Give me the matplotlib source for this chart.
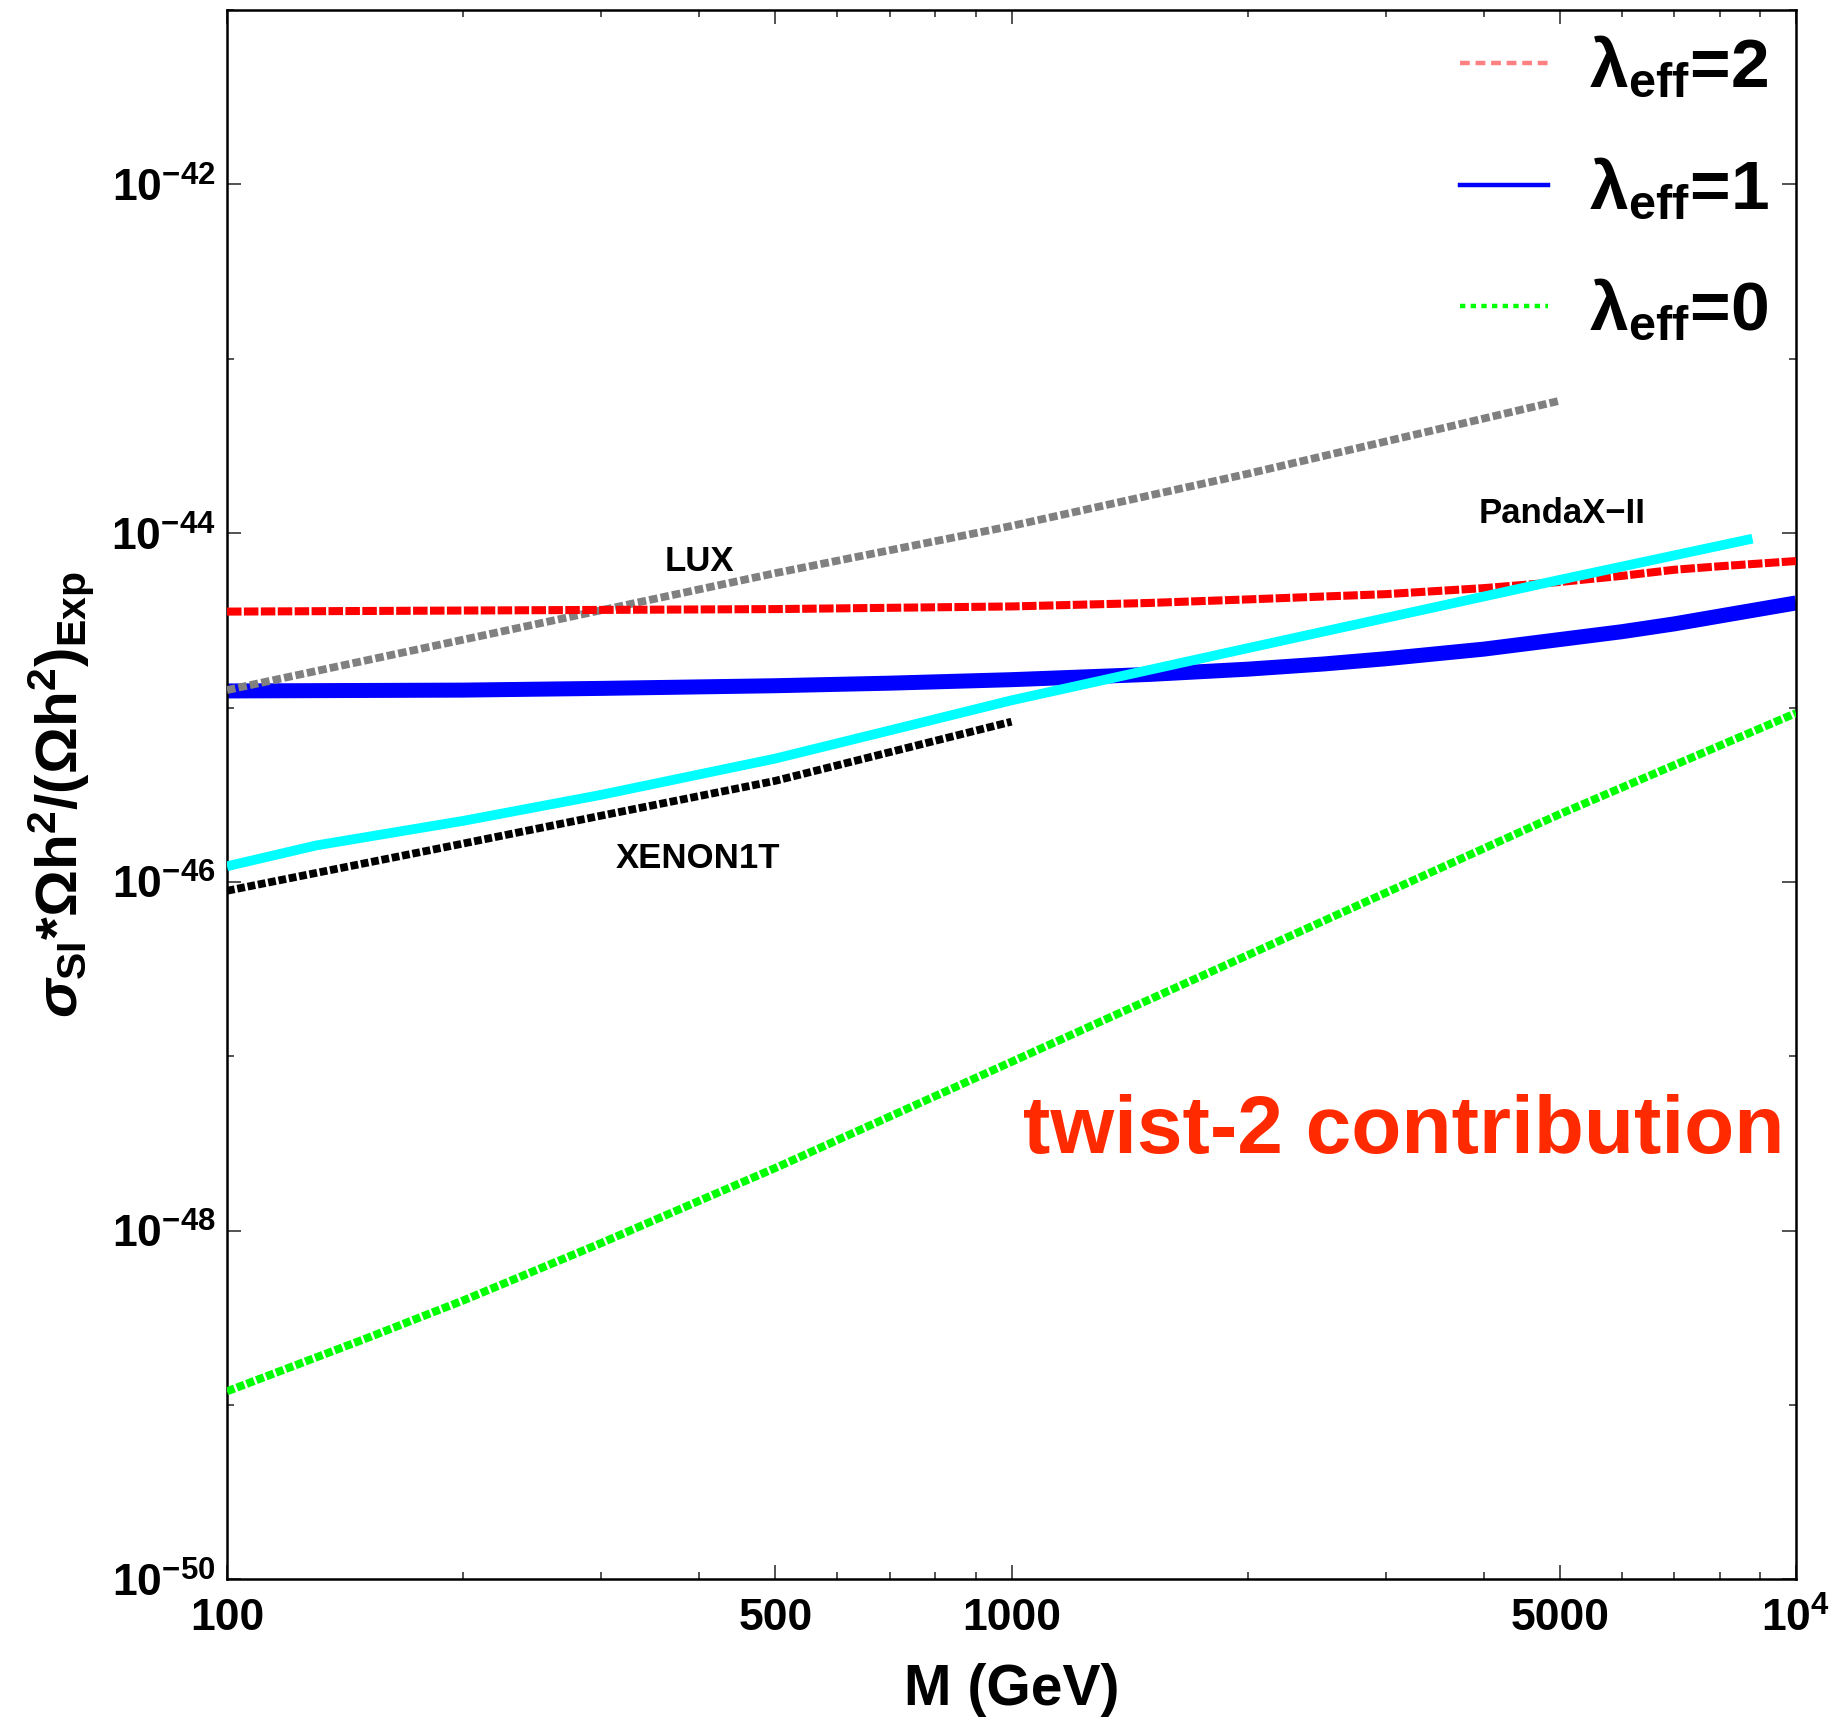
import matplotlib
matplotlib.use("Agg")
import matplotlib.pyplot as plt
from matplotlib.lines import Line2D
from matplotlib.ticker import FixedLocator, FixedFormatter, NullFormatter
from matplotlib import font_manager

# ---------------- data ----------------
# twist-2 contribution, lambda_eff = 2
mass_lam2 = [100, 300, 500, 1000, 1500, 2000, 3000, 4000, 5000, 6000, 7000, 8000, 10000]
sigma_lam2 = [3.55e-45, 3.63e-45, 3.67e-45, 3.80e-45, 3.98e-45, 4.17e-45, 4.47e-45, 4.84e-45,
              5.25e-45, 5.69e-45, 6.17e-45, 6.46e-45, 6.92e-45]

# lambda_eff = 1
mass_lam1 = [100, 200, 300, 500, 700, 1000, 1500, 2000, 2500, 3000, 4000, 5000, 6000, 7000, 8000, 10000]
sigma_lam1 = [1.245e-45, 1.259e-45, 1.288e-45, 1.334e-45, 1.380e-45, 1.445e-45, 1.549e-45, 1.660e-45,
              1.778e-45, 1.905e-45, 2.163e-45, 2.455e-45, 2.723e-45, 3.02e-45, 3.35e-45, 3.98e-45]

# lambda_eff = 0
mass_lam0 = [100, 150, 200, 300, 500, 1000, 2000, 5000, 10000]
sigma_lam0 = [1.20e-49, 2.40e-49, 3.98e-49, 8.5e-49, 2.29e-48, 9.3e-48, 3.8e-47, 2.45e-46, 9.3e-46]

# experimental limits
mass_lux = [100, 200, 500, 1000, 2000, 5000]
sigma_lux = [1.26e-45, 2.45e-45, 5.9e-45, 1.10e-44, 2.19e-44, 5.75e-44]

mass_xenon = [100, 200, 300, 500, 1000]
sigma_xenon = [8.9e-47, 1.66e-46, 2.4e-46, 3.8e-46, 8.3e-46]

mass_panda = [100, 130, 200, 300, 500, 700, 1000, 2000, 5000, 8800]
sigma_panda = [1.23e-46, 1.62e-46, 2.24e-46, 3.16e-46, 5.1e-46, 7.4e-46, 1.10e-45, 2.19e-45, 5.4e-45, 9.3e-45]

# axis ticks
x_major_ticks = [100, 500, 1000, 5000, 10000]
x_major_labels = ["100", "500", "1000", "5000", r"$\mathbf{10^{4}}$"]
x_minor_ticks = [200, 300, 400, 600, 700, 800, 900, 2000, 3000, 4000, 6000, 7000, 8000, 9000]
y_major_ticks = [1e-50, 1e-48, 1e-46, 1e-44, 1e-42]
y_major_labels = [r"$\mathbf{10^{-50}}$", r"$\mathbf{10^{-48}}$", r"$\mathbf{10^{-46}}$",
                  r"$\mathbf{10^{-44}}$", r"$\mathbf{10^{-42}}$"]
y_minor_ticks = [1e-49, 1e-47, 1e-45, 1e-43, 1e-41]

legend_labels = [r"λ$_{\mathbf{eff}}$=2", r"λ$_{\mathbf{eff}}$=1", r"λ$_{\mathbf{eff}}$=0"]

# ---------------- style ----------------
plt.rcParams["font.family"] = ["Liberation Sans", "DejaVu Sans"]
plt.rcParams["font.weight"] = "bold"
plt.rcParams["mathtext.fontset"] = "custom"
plt.rcParams["mathtext.rm"] = "Liberation Sans:bold"
plt.rcParams["mathtext.bf"] = "Liberation Sans:bold"
plt.rcParams["mathtext.it"] = "Liberation Sans:italic"
plt.rcParams["mathtext.default"] = "it"

fig = plt.figure(figsize=(18.4, 17.21), dpi=100)
ax = fig.add_axes([0.12337, 0.08222, 0.85272, 0.91197])
ax.set_xscale("log")
ax.set_yscale("log")
ax.set_xlim(100, 10000)
ax.set_ylim(1e-50, 1e-41)

# curves
ax.plot(mass_lam1, sigma_lam1, color="#0000ff", lw=10.8, solid_capstyle="butt",
        solid_joinstyle="round", zorder=2)
ax.plot(mass_lux, sigma_lux, color="#808080", lw=5.6, dashes=(1.1, 0.4), zorder=3)
ax.plot(mass_lam2, sigma_lam2, color="#ff0000", lw=5.8, dashes=(1.8, 0.3), zorder=4)
ax.plot(mass_lam0, sigma_lam0, color="#00ff00", lw=5.8, dashes=(1.0, 0.3), zorder=4)
ax.plot(mass_xenon, sigma_xenon, color="#000000", lw=5.6, dashes=(1.0, 0.35), zorder=5)
ax.plot(mass_panda, sigma_panda, color="#00ffff", lw=7.0, solid_capstyle="butt",
        solid_joinstyle="round", zorder=6)

# experiment names
ax.text(0.3008, 0.6489, "LUX", transform=ax.transAxes, fontsize=25, fontweight="bold",
        ha="center", va="center")
ax.text(0.8508, 0.6789, "PandaX−II", transform=ax.transAxes, fontsize=25, fontweight="bold",
        ha="center", va="center")
ax.text(0.3002, 0.4591, "XENON1T", transform=ax.transAxes, fontsize=25, fontweight="bold",
        ha="center", va="center")

# narrow face for the annotation when one is installed
installed = {f.name for f in font_manager.fontManager.ttflist}
if "Liberation Sans Narrow" in installed:
    note_family, note_size = "Liberation Sans Narrow", 69
else:
    note_family, note_size = "Liberation Sans", 59
ax.text(0.9924, 0.2851, "twist-2 contribution", transform=ax.transAxes,
        fontsize=note_size, family=note_family, fontweight="bold", color="#ff2a00",
        ha="right", va="center")

# ticks
ax.xaxis.set_major_locator(FixedLocator(x_major_ticks))
ax.xaxis.set_major_formatter(FixedFormatter(x_major_labels))
ax.xaxis.set_minor_locator(FixedLocator(x_minor_ticks))
ax.xaxis.set_minor_formatter(NullFormatter())
ax.yaxis.set_major_locator(FixedLocator(y_major_ticks))
ax.yaxis.set_major_formatter(FixedFormatter(y_major_labels))
ax.yaxis.set_minor_locator(FixedLocator(y_minor_ticks))
ax.yaxis.set_minor_formatter(NullFormatter())
ax.tick_params(which="both", direction="in", top=True, right=True, color="#444444", width=1.3)
ax.tick_params(which="major", length=10, labelsize=32, pad=8)
ax.tick_params(axis="x", which="major", pad=13)
ax.tick_params(which="minor", length=5)
for spine in ax.spines.values():
    spine.set_linewidth(1.8)

ax.set_xlabel("M (GeV)", fontsize=41, fontweight="bold", labelpad=16)
ax.set_ylabel(r"$\sigma_{\mathbf{SI}}$*Ωh$^{\mathbf{2}}$/(Ωh$^{\mathbf{2}}$)$_{\mathbf{Exp}}$",
              fontsize=42, fontweight="bold")
ax.yaxis.set_label_coords(-0.083, 0.5)

# legend
handles = [
    Line2D([], [], color="#ff8080", lw=3.2, dashes=(2.2, 1.3)),
    Line2D([], [], color="#0000ff", lw=3.2),
    Line2D([], [], color="#00ff00", lw=3.2, dashes=(1.2, 1.2)),
]
ax.legend(handles, legend_labels, loc="upper right", bbox_to_anchor=(0.983, 0.984),
          frameon=False, prop={"size": 50, "weight": "bold"}, handlelength=1.27,
          handletextpad=0.6, labelspacing=0.8, borderpad=0, borderaxespad=0)

fig.savefig("out.png", dpi=100)
